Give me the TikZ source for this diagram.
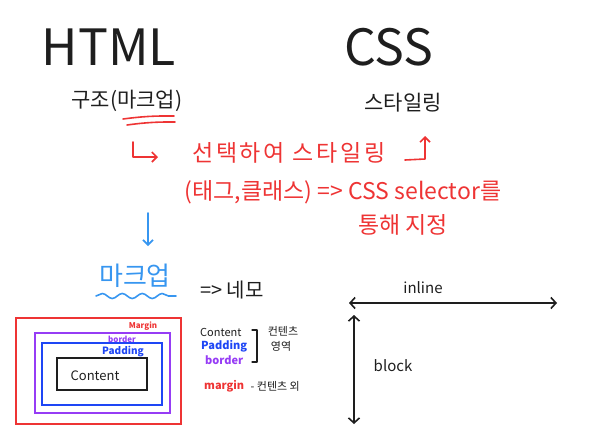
\documentclass[tikz,border=0pt]{standalone}
\usepackage{fontspec}
\usepackage{xcolor}
\usepackage{tikz}
\usetikzlibrary{positioning,arrows.meta,decorations.pathmorphing}
\newfontfamily\krfont{Noto Sans CJK KR}
\newfontfamily\krwide[LetterSpace=12]{Noto Sans CJK KR}
\definecolor{penred}{RGB}{238,52,52}
\definecolor{penblue}{RGB}{30,70,245}
\definecolor{skyblue}{RGB}{55,150,240}
\definecolor{penpurple}{RGB}{150,60,245}
\definecolor{penblack}{RGB}{30,30,30}

\begin{document}
\begin{tikzpicture}[
    x=1pt, y=-1pt,
    every node/.style={inner sep=0pt, font=\krfont},
    title/.style={text=penblack, font=\krfont\fontsize{50}{54}\selectfont},
    sub/.style={text=penblack, font=\krfont\fontsize{21}{24}\selectfont},
    note/.style={text=penred, font=\krfont\fontsize{23}{26}\selectfont},
    small/.style={font=\krfont\bfseries\fontsize{8}{9}\selectfont},
    legend/.style={font=\krfont\fontsize{11}{12}\selectfont, anchor=west},
    box/.style={draw, line width=2pt},
    pen/.style={line width=1.6pt, line cap=round, line join=round},
    arrow/.style={pen, -{Straight Barb[length=5pt, width=10pt]}},
    twoway/.style={pen, penblack, {Straight Barb[length=5pt, width=11pt]}-{Straight Barb[length=5pt, width=11pt]}}
]
\useasboundingbox (0,0) rectangle (599,445);

% Top row: HTML and CSS
\node[title] (html) at (109,47) {HTML};
\node[title] (css) at (389,47) {CSS};
\node[sub] (struct) at (127,101) {구조(마크업)};
\node[sub] (styling) at (403,103) {스타일링};

% red underline below the markup word
\draw[pen, penred] (123,119) to[bend left=4] (174,116);
\draw[pen, penred] (127,125) to[bend left=4] (175,122);

% Middle: selector notes
\node[note, font=\krwide\fontsize{23}{26}\selectfont] (select) at (289,153) {선택하여 스타일링};
\node[note] (selector) at (343,192) {(태그,클래스) => CSS selector를};
\node[note] (assign) at (403,225) {통해 지정};

\coordinate (hookin) at (133,142);
\coordinate (hookend) at (158,157);
\coordinate (hookout) at (405,160);
\coordinate (hookup) at (425,136);
\draw[arrow, penred] (hookin) |- (hookend);
\draw[arrow, penred] (hookout) -- (425,159) -- (hookup);

% Markup and box model
\node[text=skyblue, font=\krfont\fontsize{26}{28}\selectfont] (markup) at (135,276) {마크업};
\node[text=penblack, font=\krfont\fontsize{20}{22}\selectfont] (square) at (232,290) {=> 네모};
\coordinate (down) at (148,213);
\coordinate (downend) at (148,246);
\draw[arrow, skyblue] (down) -- (downend);
\draw[pen, skyblue, decorate, decoration={snake, amplitude=2.5pt, segment length=20pt}]
    (96,296) -- (176,296);

\draw[box, penred] (16,318) rectangle (181,424);
\draw[box, penpurple, line width=2.6pt] (35,333) rectangle (170,413);
\draw[box, penblue, line width=2.4pt] (42,343) rectangle (162,405);
\draw[box, penblack] (57,358) rectangle (147,390);
\node[small, text=penred] (lmargin) at (143,326) {Margin};
\node[small, text=penpurple] (lborder) at (122,339) {border};
\node[small, text=penblue, font=\krfont\bfseries\fontsize{10}{11}\selectfont] (lpad) at (123,352) {Padding};
\node[text=penblack, font=\krfont\fontsize{13}{14}\selectfont] (lcontent) at (95,376) {Content};

% Legend
\node[legend, text=penblack] (kcontent) at (200,332) {Content};
\node[legend, text=penblue, font=\krfont\bfseries\fontsize{11}{12}\selectfont] (kpad) at (201,346) {Padding};
\node[legend, text=penpurple, font=\krfont\bfseries\fontsize{11}{12}\selectfont] (kborder) at (205,360) {border};
\draw[pen, penblack, line width=1.3pt] (252,330) -- (257,330) -- (257,362) -- (252,362);
\node[text=penblack, font=\krfont\fontsize{11}{12}\selectfont] (area1) at (283,331) {컨텐츠};
\node[text=penblack, font=\krfont\fontsize{11}{12}\selectfont] (area2) at (281,346) {영역};
\node[legend, text=penred, font=\krfont\bfseries\fontsize{11}{12}\selectfont] (kmargin) at (204,386) {margin};
\node[legend, text=penblack, font=\krfont\fontsize{11}{12}\selectfont, right=6pt of kmargin] (outside) {- 컨텐츠 외};

% inline / block directions
\coordinate (corner) at (349,303);
\coordinate (inlineend) at (557,303);
\coordinate (blocktop) at (354,315);
\coordinate (blockend) at (354,424);
\draw[twoway] (corner) -- (inlineend);
\draw[twoway] (blocktop) -- (blockend);
\node[text=penblack, font=\krfont\fontsize{15}{16}\selectfont] (inline) at (423,288) {inline};
\node[text=penblack, font=\krfont\fontsize{15}{16}\selectfont] (block) at (393,366) {block};

\end{tikzpicture}
\end{document}
